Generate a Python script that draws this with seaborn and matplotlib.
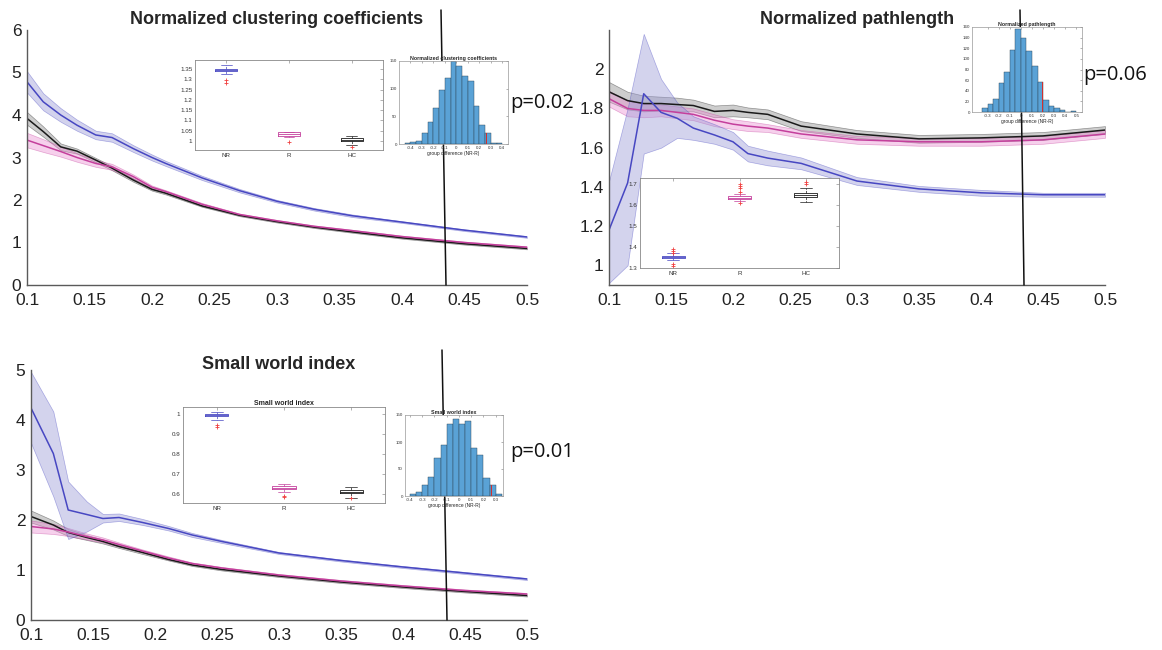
import matplotlib.pyplot as plt
import matplotlib.lines as mlines
import numpy as np
import seaborn as sns

W, H = 1162, 650

# ---------------- main curves ----------------
# clustering coefficients
cc_x = [0.1, 0.113, 0.127, 0.14, 0.155, 0.168, 0.185, 0.2, 0.211, 0.24, 0.27,
        0.3, 0.33, 0.36, 0.4, 0.45, 0.5]
cc_nr = [4.78, 4.31, 4.0, 3.76, 3.53, 3.47, 3.21, 3.0, 2.86, 2.52, 2.22,
         1.97, 1.78, 1.63, 1.48, 1.29, 1.13]
cc_nr_err = [0.25, 0.2, 0.16, 0.13, 0.1, 0.1, 0.08, 0.07, 0.06, 0.05, 0.04,
             0.03, 0.03, 0.03, 0.02, 0.02, 0.02]
cc_r = [3.41, 3.28, 3.14, 3.0, 2.86, 2.78, 2.55, 2.3, 2.2, 1.9, 1.66,
        1.51, 1.38, 1.28, 1.14, 1.0, 0.89]
cc_r_err = [0.17, 0.15, 0.12, 0.1, 0.08, 0.07, 0.05, 0.04, 0.03, 0.03, 0.02,
            0.02, 0.02, 0.02, 0.02, 0.02, 0.02]
cc_hc = [3.92, 3.61, 3.25, 3.15, 2.94, 2.75, 2.47, 2.25, 2.16, 1.86, 1.64,
         1.49, 1.36, 1.25, 1.11, 0.97, 0.86]
cc_hc_err = [0.15, 0.12, 0.08, 0.06, 0.05, 0.05, 0.04, 0.03, 0.03, 0.02, 0.02,
             0.02, 0.02, 0.02, 0.02, 0.02, 0.02]

# pathlength
pl_x = [0.1, 0.115, 0.128, 0.142, 0.155, 0.168, 0.185, 0.2, 0.212, 0.228,
        0.255, 0.3, 0.35, 0.4, 0.45, 0.5]
pl_nr = [1.18, 1.42, 1.875, 1.78, 1.75, 1.70, 1.665, 1.63, 1.57, 1.547,
         1.52, 1.43, 1.39, 1.37, 1.36, 1.36]
pl_nr_lo = [0.91, 1.0, 1.57, 1.60, 1.65, 1.64, 1.62, 1.59, 1.53, 1.51,
            1.49, 1.41, 1.375, 1.355, 1.35, 1.35]
pl_nr_hi = [1.43, 1.80, 2.18, 1.95, 1.83, 1.76, 1.72, 1.68, 1.61, 1.585,
            1.55, 1.45, 1.405, 1.385, 1.37, 1.37]
pl_r = [1.85, 1.80, 1.79, 1.79, 1.78, 1.77, 1.74, 1.72, 1.71, 1.70,
        1.67, 1.64, 1.63, 1.63, 1.64, 1.67]
pl_r_err = [0.04, 0.04, 0.035, 0.03, 0.03, 0.03, 0.03, 0.025, 0.025, 0.02,
            0.02, 0.02, 0.02, 0.02, 0.02, 0.02]
pl_hc = [1.885, 1.84, 1.825, 1.825, 1.82, 1.815, 1.785, 1.79, 1.78, 1.77,
         1.71, 1.67, 1.645, 1.65, 1.66, 1.69]
pl_hc_err = [0.05, 0.045, 0.04, 0.035, 0.035, 0.03, 0.03, 0.03, 0.025, 0.025,
             0.025, 0.02, 0.02, 0.02, 0.02, 0.02]

# small world index
sw_x = [0.1, 0.118, 0.13, 0.145, 0.158, 0.171, 0.19, 0.211, 0.23, 0.254,
        0.3, 0.35, 0.4, 0.45, 0.5]
sw_nr = [4.24, 3.33, 2.2, 2.11, 2.03, 2.05, 1.95, 1.83, 1.70, 1.57,
         1.34, 1.19, 1.06, 0.94, 0.82]
sw_nr_lo = [3.54, 2.47, 1.62, 1.77, 1.95, 1.98, 1.9, 1.79, 1.66, 1.54,
            1.32, 1.17, 1.04, 0.92, 0.80]
sw_nr_hi = [4.96, 4.17, 2.77, 2.37, 2.12, 2.13, 2.02, 1.88, 1.74, 1.60,
            1.36, 1.21, 1.08, 0.96, 0.84]
sw_r = [1.87, 1.82, 1.76, 1.67, 1.6, 1.51, 1.38, 1.24, 1.13, 1.04,
        0.9, 0.78, 0.68, 0.59, 0.52]
sw_r_err = [0.12, 0.1, 0.08, 0.06, 0.05, 0.04, 0.03, 0.03, 0.02, 0.02,
            0.02, 0.02, 0.02, 0.02, 0.02]
sw_hc = [2.07, 1.9, 1.75, 1.65, 1.57, 1.47, 1.35, 1.21, 1.1, 1.01,
         0.88, 0.76, 0.66, 0.57, 0.49]
sw_hc_err = [0.12, 0.09, 0.07, 0.05, 0.04, 0.03, 0.03, 0.02, 0.02, 0.02,
             0.02, 0.02, 0.02, 0.02, 0.02]

x_ticks = [0.1, 0.15, 0.2, 0.25, 0.3, 0.35, 0.4, 0.45, 0.5]
x_labels = ["0.1", "0.15", "0.2", "0.25", "0.3", "0.35", "0.4", "0.45", "0.5"]

# ---------------- inset boxplots (summary stats) ----------------
groups = ["NR", "R", "HC"]
# med, q1, q3, whislo, whishi, fliers
cc_box = [(1.345, 1.34, 1.35, 1.325, 1.37, [1.295, 1.285]),
          (1.035, 1.025, 1.045, 1.02, 1.045, [0.995]),
          (1.005, 1.0, 1.015, 0.98, 1.025, [0.97])]
pl_box = [(1.352, 1.348, 1.356, 1.338, 1.372, [1.39, 1.38, 1.37, 1.32, 1.31]),
          (1.635, 1.628, 1.642, 1.62, 1.655, [1.61, 1.665, 1.68, 1.69, 1.70]),
          (1.648, 1.64, 1.66, 1.615, 1.68, [1.70, 1.71])]
sw_box = [(0.993, 0.988, 1.0, 0.97, 1.008, [0.945, 0.935]),
          (0.632, 0.625, 0.64, 0.61, 0.65, [0.59, 0.585]),
          (0.61, 0.603, 0.62, 0.58, 0.635, [0.578])]

# ---------------- inset permutation histograms ----------------
cc_edges = [-0.45, -0.4, -0.35, -0.3, -0.25, -0.2, -0.15, -0.1, -0.05, 0.0,
            0.05, 0.1, 0.15, 0.2, 0.25, 0.3, 0.35, 0.4]
cc_counts = [2, 3, 5, 20, 40, 65, 97, 119, 150, 141, 123, 113, 68, 35, 20, 2, 1]
pl_edges = [-0.35, -0.3, -0.25, -0.2, -0.15, -0.1, -0.05, 0.0, 0.05, 0.1,
            0.15, 0.2, 0.25, 0.3, 0.35, 0.4, 0.45, 0.5]
pl_counts = [8, 16, 24, 54, 76, 116, 157, 139, 114, 86, 56, 23, 12, 7, 3, 0, 1]
sw_edges = [-0.4, -0.35, -0.3, -0.25, -0.2, -0.15, -0.1, -0.05, 0.0, 0.05,
            0.1, 0.15, 0.2, 0.25, 0.3, 0.35]
sw_counts = [4, 7, 21, 35, 71, 94, 134, 142, 134, 139, 88, 76, 34, 21, 3]

BLUE = "#4747c2"
BLUE_FILL = "#9898d6"
PINK = "#c43f9c"
PINK_FILL = "#ea8fd2"
DARK = "#1a1a1a"
GRAY_FILL = "#8a8a8a"
HIST = "#5aa2d6"

sns.set_style("white")
plt.rcParams["font.family"] = ["Liberation Sans", "DejaVu Sans"]


def px_axes(fig, l, t, r, b, zorder=0):
    return fig.add_axes([l / W, 1 - b / H, (r - l) / W, (b - t) / H],
                        zorder=zorder)


def curve(ax, x, y, lo, hi, color, fill):
    ax.fill_between(x, lo, hi, facecolor=fill, alpha=0.42,
                    edgecolor=color, linewidth=0.5)
    sns.lineplot(x=x, y=y, color=color, linewidth=1.1, ax=ax)


def band(y, err):
    return np.array(y) - np.array(err), np.array(y) + np.array(err)


def style_main(ax, ylim, yticks, ylabels, title, pad):
    ax.set_xlim(0.1, 0.5)
    ax.set_ylim(*ylim)
    ax.set_xticks(x_ticks)
    ax.set_xticklabels(x_labels)
    ax.set_yticks(yticks)
    ax.set_yticklabels(ylabels)
    sns.despine(ax=ax)
    for s in ["left", "bottom"]:
        ax.spines[s].set_color("#5a5a5a")
        ax.spines[s].set_linewidth(1.0)
    ax.tick_params(direction="in", length=5, width=1, labelsize=12.5,
                   color="#5a5a5a", labelcolor="#222222")
    ax.tick_params(axis="x", pad=6)
    ax.tick_params(axis="y", pad=4)
    ax.set_xlabel("")
    ax.set_ylabel("")
    ax.set_title(title, fontsize=13, fontweight="bold", pad=pad)


def box_inset(ax, stats, ylim, yticks, ylabels, title=None):
    colors = [BLUE, PINK, DARK]
    for i, (st, c) in enumerate(zip(stats, colors)):
        med, q1, q3, lo, hi, fl = st
        d = [dict(med=med, q1=q1, q3=q3, whislo=lo, whishi=hi, fliers=fl,
                  label=groups[i])]
        ax.bxp(d, positions=[i + 1], widths=0.35, showfliers=True,
               boxprops=dict(color=c, lw=0.6),
               medianprops=dict(color=c, lw=0.6),
               whiskerprops=dict(color=c, lw=0.5, ls="--"),
               capprops=dict(color=c, lw=0.5),
               flierprops=dict(marker="+", markeredgecolor="#f04040",
                               markersize=3, markeredgewidth=0.6))
    ax.set_xlim(0.5, 3.5)
    ax.set_ylim(*ylim)
    ax.set_xticks([1, 2, 3])
    ax.set_xticklabels(groups)
    ax.set_yticks(yticks)
    ax.set_yticklabels(ylabels)
    ax.tick_params(direction="in", length=2, width=0.4, labelsize=4.5,
                   color="#777777", labelcolor="#333333", pad=2,
                   top=True, right=True)
    for s in ax.spines.values():
        s.set_color("#888888")
        s.set_linewidth(0.6)
        s.set_visible(True)
    if title:
        ax.set_title(title, fontsize=5, fontweight="bold", pad=1.5)


def hist_inset(ax, edges, counts, xlim, xticks, ylim, yticks, red_x, red_h,
               title):
    centers = [(a + b) / 2 for a, b in zip(edges[:-1], edges[1:])]
    sns.histplot(x=centers, weights=counts, bins=edges, color=HIST, alpha=1,
                 edgecolor="#2a4050", linewidth=0.3, ax=ax)
    ax.bar([red_x], [red_h], width=0.008, color="#d03030", linewidth=0)
    ax.set_xlim(*xlim)
    ax.set_ylim(*ylim)
    ax.set_xticks(xticks)
    ax.set_xticklabels([f"{t:g}" for t in xticks])
    ax.set_yticks(yticks)
    ax.set_ylabel("")
    ax.set_xlabel("group difference (NR-R)", fontsize=3.5, labelpad=1)
    ax.set_title(title, fontsize=3.8, fontweight="bold", pad=1)
    ax.tick_params(direction="in", length=1.5, width=0.4, labelsize=3.2,
                   color="#777777", labelcolor="#333333", pad=1.5,
                   top=True, right=True)
    for s in ax.spines.values():
        s.set_color("#999999")
        s.set_linewidth(0.5)
        s.set_visible(True)


fig = plt.figure(figsize=(W / 100, H / 100), dpi=100)

# --- clustering coefficients ---
ax1 = px_axes(fig, 27, 30, 527, 285)
curve(ax1, cc_x, cc_hc, *band(cc_hc, cc_hc_err), DARK, GRAY_FILL)
curve(ax1, cc_x, cc_r, *band(cc_r, cc_r_err), PINK, PINK_FILL)
curve(ax1, cc_x, cc_nr, *band(cc_nr, cc_nr_err), BLUE, BLUE_FILL)
style_main(ax1, (0, 6), range(7), [str(i) for i in range(7)],
           "Normalized clustering coefficients", 4)

# --- pathlength ---
ax2 = px_axes(fig, 609, 30, 1105, 285)
curve(ax2, pl_x, pl_hc, *band(pl_hc, pl_hc_err), DARK, GRAY_FILL)
curve(ax2, pl_x, pl_r, *band(pl_r, pl_r_err), PINK, PINK_FILL)
curve(ax2, pl_x, pl_nr, pl_nr_lo, pl_nr_hi, BLUE, BLUE_FILL)
style_main(ax2, (0.9, 2.2), [1, 1.2, 1.4, 1.6, 1.8, 2],
           ["1", "1.2", "1.4", "1.6", "1.8", "2"], "Normalized pathlength", 4)

# --- small world ---
ax3 = px_axes(fig, 31, 370, 527, 620)
curve(ax3, sw_x, sw_hc, *band(sw_hc, sw_hc_err), DARK, GRAY_FILL)
curve(ax3, sw_x, sw_r, *band(sw_r, sw_r_err), PINK, PINK_FILL)
curve(ax3, sw_x, sw_nr, sw_nr_lo, sw_nr_hi, BLUE, BLUE_FILL)
style_main(ax3, (0, 5), range(6), [str(i) for i in range(6)],
           "Small world index", 1)

# connector lines from histogram to threshold axis
for (x0, y0, x1, y1) in [(441, 10, 446, 285), (1020, 10, 1024, 285),
                         (442, 350, 447, 620)]:
    fig.add_artist(mlines.Line2D([x0 / W, x1 / W], [1 - y0 / H, 1 - y1 / H],
                                 transform=fig.transFigure, color="#111111",
                                 lw=1.1, zorder=1))

# insets
b1 = px_axes(fig, 195, 60, 383, 150, zorder=2)
box_inset(b1, cc_box, (0.955, 1.395),
          [1, 1.05, 1.1, 1.15, 1.2, 1.25, 1.3, 1.35],
          ["1", "1.05", "1.1", "1.15", "1.2", "1.25", "1.3", "1.35"])
h1 = px_axes(fig, 399, 61, 508, 144, zorder=2)
hist_inset(h1, cc_edges, cc_counts, (-0.5, 0.45),
           [-0.4, -0.3, -0.2, -0.1, 0, 0.1, 0.2, 0.3, 0.4], (0, 150),
           [0, 50, 100, 150], 0.262, 20, "Normalized clustering coefficients")

b2 = px_axes(fig, 640, 178, 839, 268, zorder=2)
box_inset(b2, pl_box, (1.3, 1.73), [1.3, 1.4, 1.5, 1.6, 1.7],
          ["1.3", "1.4", "1.5", "1.6", "1.7"])
h2 = px_axes(fig, 972, 27, 1082, 112, zorder=2)
hist_inset(h2, pl_edges, pl_counts, (-0.44, 0.55),
           [-0.3, -0.2, -0.1, 0, 0.1, 0.2, 0.3, 0.4, 0.5], (0, 160),
           list(range(0, 161, 20)), 0.196, 56, "Normalized pathlength")

b3 = px_axes(fig, 183, 407, 385, 503, zorder=2)
box_inset(b3, sw_box, (0.555, 1.035), [0.6, 0.7, 0.8, 0.9, 1],
          ["0.6", "0.7", "0.8", "0.9", "1"], title="Small world index")
h3 = px_axes(fig, 405, 415, 503, 496, zorder=2)
hist_inset(h3, sw_edges, sw_counts, (-0.44, 0.36),
           [-0.4, -0.3, -0.2, -0.1, 0, 0.1, 0.2, 0.3], (0, 150),
           [0, 50, 100, 150], 0.265, 21, "Small world index")

# p-values
for (x, y, t) in [(510, 103, "p=0.02"), (1083, 75, "p=0.06"),
                  (510, 452, "p=0.01")]:
    fig.text(x / W, 1 - y / H, t, fontsize=14.5, va="center", ha="left",
             family=["Open Sans", "DejaVu Sans"], color="#111111")

fig.savefig("out.png", dpi=100)
